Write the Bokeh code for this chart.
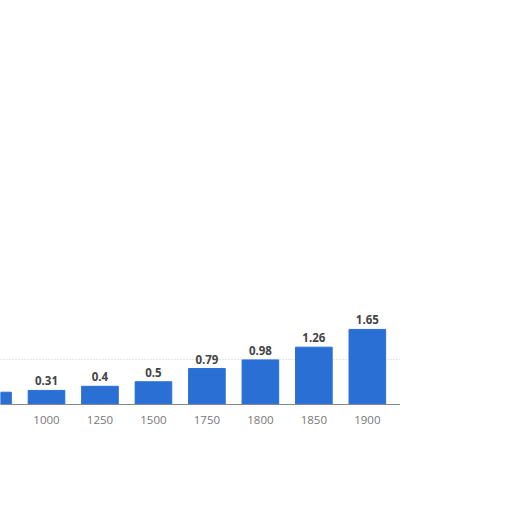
from bokeh.plotting import figure
from bokeh.models import FixedTicker, Range1d
from bokeh.core.properties import value
from bokeh.embed import file_html
from bokeh.resources import INLINE

years = ["750", "1000", "1250", "1500", "1750", "1800", "1850", "1900"]
population = [0.27, 0.31, 0.4, 0.5, 0.79, 0.98, 1.26, 1.65]
value_labels = ["", "0.31", "0.4", "0.5", "0.79", "0.98", "1.26", "1.65"]

idx = list(range(len(years)))

p = figure(frame_width=400, frame_height=91, output_backend="svg",
           toolbar_location=None, x_range=Range1d(0.14, 7.62),
           y_range=Range1d(0, 2), y_axis_location=None,
           min_border_left=0, min_border_right=0, min_border_top=313,
           min_border_bottom=60)
p.outline_line_color = None
p.background_fill_color = "white"

p.vbar(x=idx, top=population, width=0.685, color="#2a6fd4")
p.text(x=idx, y=population, text=value_labels, y_offset=-5,
       text_align="center", text_baseline="bottom",
       text_font=value("Open Sans"), text_font_size="11.5px",
       text_font_style="bold", text_color="#444444")

p.xgrid.grid_line_color = None
p.ygrid.ticker = FixedTicker(ticks=[1, 2])
p.ygrid.grid_line_color = "#cccccc"
p.ygrid.grid_line_dash = "1 2"

ax = p.xaxis[0]
ax.ticker = FixedTicker(ticks=idx)
ax.major_label_overrides = {i: y for i, y in zip(idx, years)}
ax.major_tick_line_color = None
ax.minor_tick_line_color = None
ax.axis_line_color = "#888888"
ax.major_label_standoff = 5
ax.major_label_text_font = "Open Sans"
ax.major_label_text_font_size = "11.5px"
ax.major_label_text_color = "#777777"

open("out.html", "w").write(file_html(p, INLINE))
